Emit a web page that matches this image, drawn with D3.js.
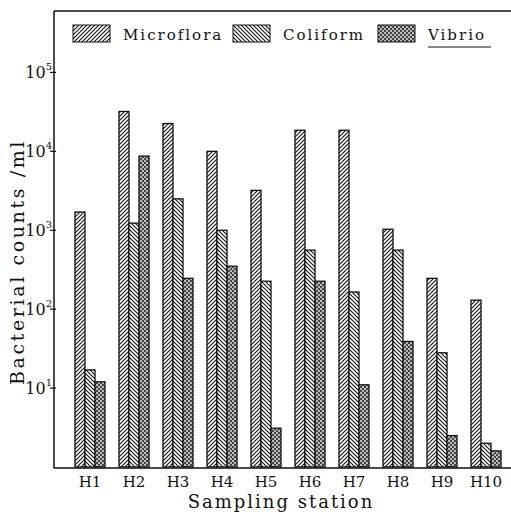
<!DOCTYPE html>
<html>
<head>
<meta charset="utf-8">
<script src="https://cdn.jsdelivr.net/npm/d3@7"></script>
<style>
  body { margin: 0; background: #fff; }
  text { font-family: "DejaVu Serif", "Liberation Serif", serif; fill: #111; }
</style>
</head>
<body>
<svg id="chart" width="511" height="514"></svg>
<script>
// values (bacterial counts per ml)
const stations = ["H1", "H2", "H3", "H4", "H5", "H6", "H7", "H8", "H9", "H10"];
const series = ["Microflora", "Coliform", "Vibrio"];
const microflora = [1700, 32000, 22500, 10000, 3200, 18500, 18500, 1030, 246, 130];
const coliform = [17, 1230, 2500, 1000, 226, 560, 165, 560, 28, 2];
const vibrio = [12, 8700, 246, 350, 3.1, 226, 11, 39, 2.5, 1.6];
const yTicks = [10, 100, 1000, 10000, 100000];
const yTickExp = ["1", "2", "3", "4", "5"];

const svg = d3.select("#chart");
const plotLeft = 54, plotTop = 11, plotBottom = 467;

const x = d3.scaleBand().domain(stations).range([54, 522])
  .paddingInner(0.318).paddingOuter(0.477);
const xs = d3.scaleBand().domain(series).range([0, x.bandwidth()]);
const y = d3.scaleLog().domain([1, 6e5]).range([plotBottom, plotTop]);

// hatch patterns
const defs = svg.append("defs");
const p1 = defs.append("pattern").attr("id", "pMicro")
  .attr("patternUnits", "userSpaceOnUse").attr("width", 4).attr("height", 4);
p1.append("rect").attr("width", 4).attr("height", 4).attr("fill", "#fff");
p1.append("path").attr("d", "M-1,1 l2,-2 M0,4 l4,-4 M3,5 l2,-2")
  .attr("stroke", "#111").attr("stroke-width", 1.1);

const p2 = defs.append("pattern").attr("id", "pColi")
  .attr("patternUnits", "userSpaceOnUse").attr("width", 4).attr("height", 4);
p2.append("rect").attr("width", 4).attr("height", 4).attr("fill", "#fff");
p2.append("path").attr("d", "M-1,3 l2,2 M0,0 l4,4 M3,-1 l2,2")
  .attr("stroke", "#111").attr("stroke-width", 1.1);

const p3 = defs.append("pattern").attr("id", "pVib")
  .attr("patternUnits", "userSpaceOnUse").attr("width", 4).attr("height", 4);
p3.append("rect").attr("width", 4).attr("height", 4).attr("fill", "#444");
p3.append("circle").attr("cx", 1).attr("cy", 1).attr("r", 0.9).attr("fill", "#f4f4f4");
p3.append("circle").attr("cx", 3).attr("cy", 3).attr("r", 0.9).attr("fill", "#f4f4f4");

const fills = { Microflora: "url(#pMicro)", Coliform: "url(#pColi)", Vibrio: "url(#pVib)" };
const vals = { Microflora: microflora, Coliform: coliform, Vibrio: vibrio };

// bars
const rows = [];
stations.forEach((s, i) => series.forEach(k => rows.push({ s, k, v: vals[k][i] })));

svg.append("g").selectAll("rect").data(rows).enter().append("rect")
  .attr("x", d => x(d.s) + xs(d.k))
  .attr("y", d => y(d.v))
  .attr("width", xs.bandwidth())
  .attr("height", d => y(1) - y(d.v))
  .attr("fill", d => fills[d.k])
  .attr("stroke", "#111")
  .attr("stroke-width", 1.3);

// frame: top line, left axis, bottom axis
svg.append("line").attr("x1", plotLeft).attr("x2", 511).attr("y1", plotTop).attr("y2", plotTop)
  .attr("stroke", "#111").attr("stroke-width", 1.5);
svg.append("line").attr("x1", plotLeft).attr("x2", plotLeft).attr("y1", plotTop).attr("y2", plotBottom + 1)
  .attr("stroke", "#111").attr("stroke-width", 1.5);
svg.append("line").attr("x1", plotLeft).attr("x2", 511).attr("y1", plotBottom + 1).attr("y2", plotBottom + 1)
  .attr("stroke", "#111").attr("stroke-width", 1.5);

// y ticks
const yt = svg.append("g");
yTicks.forEach((t, i) => {
  yt.append("line").attr("x1", plotLeft - 4).attr("x2", plotLeft + 2)
    .attr("y1", y(t)).attr("y2", y(t)).attr("stroke", "#111").attr("stroke-width", 1.2);
  const tx = yt.append("text").attr("x", plotLeft - 2).attr("y", y(t) + 6)
    .attr("text-anchor", "end").attr("font-size", 16);
  tx.append("tspan").text("10");
  tx.append("tspan").attr("dy", -8).attr("font-size", 10).text(yTickExp[i]);
});

// x tick labels
svg.append("g").selectAll("text").data(stations).enter().append("text")
  .attr("x", d => x(d) + x.bandwidth() / 2)
  .attr("y", 487)
  .attr("text-anchor", "middle")
  .attr("font-size", 15)
  .text(d => d);

// axis titles
svg.append("text").attr("x", 281).attr("y", 508).attr("text-anchor", "middle")
  .attr("font-size", 18).attr("letter-spacing", 2).text("Sampling station");
svg.append("text").attr("transform", "translate(24,262) rotate(-90)")
  .attr("text-anchor", "middle").attr("font-size", 19).attr("letter-spacing", 2.6)
  .text("Bacterial counts /ml");

// legend
const legendX = [73, 233, 378];
const lg = svg.append("g");
series.forEach((k, i) => {
  lg.append("rect").attr("x", legendX[i]).attr("y", 25).attr("width", 37).attr("height", 17)
    .attr("fill", fills[k]).attr("stroke", "#111").attr("stroke-width", 1);
  lg.append("text").attr("x", legendX[i] + 50).attr("y", 40)
    .attr("font-size", 15).attr("letter-spacing", 2).text(k);
});
lg.append("line").attr("x1", 428).attr("x2", 491).attr("y1", 47).attr("y2", 47)
  .attr("stroke", "#111").attr("stroke-width", 1);
</script>
</body>
</html>
